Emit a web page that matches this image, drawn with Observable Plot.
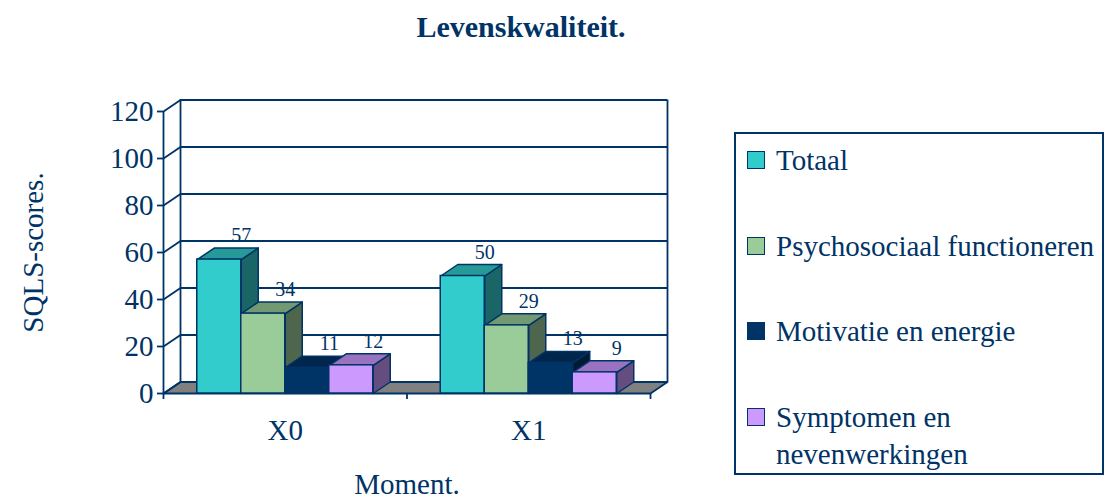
<!DOCTYPE html>
<html>
<head>
<meta charset="utf-8">
<script src="https://cdn.jsdelivr.net/npm/d3@7"></script>
<script src="https://cdn.jsdelivr.net/npm/@observablehq/plot@0.6"></script>
<style>
  html, body { margin: 0; padding: 0; background: white; }
  body { width: 1105px; height: 501px; position: relative; overflow: hidden;
         font-family: 'Liberation Serif', 'Times New Roman', serif; color: #003366; }
  #title { position: absolute; left: 521px; top: 12px; transform: translateX(-50%);
           font-weight: bold; font-size: 30px; line-height: 30px; white-space: nowrap; }
  #chart { position: absolute; left: 0; top: 60px; }
  #legend { position: absolute; left: 734px; top: 132px; width: 366px; height: 339px;
            border: 2px solid #003366; }
  .item { position: absolute; left: 0; width: 366px; font-size: 29px; line-height: 37px; }
  .sw { position: absolute; left: 11px; top: 9px; width: 16px; height: 16px; border: 1.5px solid #003366; }
  .lbl { position: absolute; left: 40px; width: 326px; }
</style>
</head>
<body>
<div id="title">Levenskwaliteit.</div>
<div id="chart"></div>
<div id="legend"></div>
<script>
// ---- data ----
const moments = ["X0", "X1"];
const series = ["Totaal", "Psychosociaal functioneren", "Motivatie en energie", "Symptomen en nevenwerkingen"];
const valuesX0 = [57, 34, 11, 12];
const valuesX1 = [50, 29, 13, 9];
const frontColors = ["#33cccc", "#99cc99", "#003366", "#cc99ff"];
const topColors = ["#269999", "#739973", "#00264d", "#9973bf"];
const sideColors = ["#1a6666", "#4d664d", "#001a33", "#664d80"];
const yTicks = [0, 20, 40, 60, 80, 100, 120];
const yMax = 120;

// ---- layout ----
const W = 720, H = 441, mL = 163, mR = 70, mT = 51, mB = 108;
const depthPx = 17, depthPy = 11.5;
const DX = depthPx / ((W - mL - mR) / moments.length);
const DY = depthPy / ((H - mT - mB) / yMax);
const groupPad = 0.1386;
const barW = (1 - 2 * groupPad) / series.length;
const navy = "#003366";

const valuesByMoment = [valuesX0, valuesX1];
const bars = moments.flatMap((m, i) => valuesByMoment[i].map((v, j) => ({
  moment: m, series: series[j], value: v, j,
  x1: i + groupPad + j * barW, x2: i + groupPad + (j + 1) * barW
})));

// side + top faces, in drawing order
const faces = [];
bars.forEach((b, k) => {
  const v = b.value;
  const side = [[b.x2, 0], [b.x2 + DX, DY], [b.x2 + DX, v + DY], [b.x2, v], [b.x2, 0]];
  const top = [[b.x1, v], [b.x1 + DX, v + DY], [b.x2 + DX, v + DY], [b.x2, v], [b.x1, v]];
  side.forEach(([x, y]) => faces.push({id: "s" + k, x, y, color: sideColors[b.j]}));
  top.forEach(([x, y]) => faces.push({id: "t" + k, x, y, color: topColors[b.j]}));
});

const floor = [[0, 0], [moments.length, 0], [moments.length + DX, DY], [DX, DY], [0, 0]]
  .map(([x, y]) => ({x, y}));

const plot = Plot.plot({
  width: W, height: H,
  marginLeft: mL, marginRight: mR, marginTop: mT, marginBottom: mB,
  x: {type: "linear", domain: [0, moments.length]},
  y: {type: "linear", domain: [0, yMax], label: null},
  color: {type: "identity"},
  style: {fontFamily: "'Liberation Serif', 'Times New Roman', serif", fontSize: "29px",
          color: navy, background: "white", overflow: "visible"},
  marks: [
    // floor
    Plot.line(floor, {x: "x", y: "y", fill: "#808080", stroke: navy, strokeWidth: 1.8, strokeLinejoin: "round"}),
    // back wall gridlines
    Plot.ruleY(yTicks.filter(t => t > 0), {y: t => t + DY, x1: () => DX, x2: () => moments.length + DX, stroke: navy, strokeWidth: 1.8}),
    // left wall slanted gridlines
    Plot.link(yTicks, {x1: () => 0, y1: t => t, x2: () => DX, y2: t => t + DY, stroke: navy, strokeWidth: 1.8}),
    // wall vertical edges
    Plot.ruleX([DX, moments.length + DX], {y1: () => DY, y2: () => yMax + DY, stroke: navy, strokeWidth: 1.8}),
    // y axis line
    Plot.ruleX([0], {y1: () => 0, y2: () => yMax, stroke: navy, strokeWidth: 1.8}),
    Plot.axisY({ticks: yTicks, tickSize: 6, tickPadding: 4, label: null, stroke: navy, strokeWidth: 1.8}),
    Plot.axisX({ticks: d3.range(moments.length + 1), tickSize: 6, tickFormat: () => "", label: null, stroke: navy, strokeWidth: 1.8}),
    Plot.axisX({ticks: moments.map((m, i) => i + 0.5), tickSize: 0, tickPadding: 26, label: null,
                tickFormat: d => moments[Math.floor(d)]}),
    // 3D side/top faces
    Plot.line(faces, {x: "x", y: "y", z: "id", fill: "color", stroke: navy, strokeWidth: 1.5, strokeLinejoin: "round"}),
    // front faces
    Plot.rect(bars, {x1: "x1", x2: "x2", y1: () => 0, y2: "value", fill: d => frontColors[d.j], stroke: navy, strokeWidth: 1.5}),
    // value labels
    Plot.text(bars, {x: d => (d.x1 + d.x2) / 2 + DX, y: d => d.value + DY, text: d => String(d.value),
                     dx: 5, dy: -6, lineAnchor: "bottom", fontSize: 20, fill: navy}),
    // axis titles
    Plot.text(["SQLS-scores."], {text: d => d, frameAnchor: "left", textAnchor: "middle", rotate: -90, dx: -130, fill: navy}),
    Plot.text(["Moment."], {text: d => d, frameAnchor: "bottom", dy: 100, fill: navy})
  ]
});
document.getElementById("chart").appendChild(plot);

// legend
const legend = document.getElementById("legend");
series.forEach((s, i) => {
  const item = document.createElement("div");
  item.className = "item";
  item.style.top = (8 + i * 85.7) + "px";
  const sw = document.createElement("div");
  sw.className = "sw";
  sw.style.background = frontColors[i];
  const lbl = document.createElement("div");
  lbl.className = "lbl";
  lbl.textContent = s;
  item.appendChild(sw);
  item.appendChild(lbl);
  legend.appendChild(item);
});
</script>
</body>
</html>
